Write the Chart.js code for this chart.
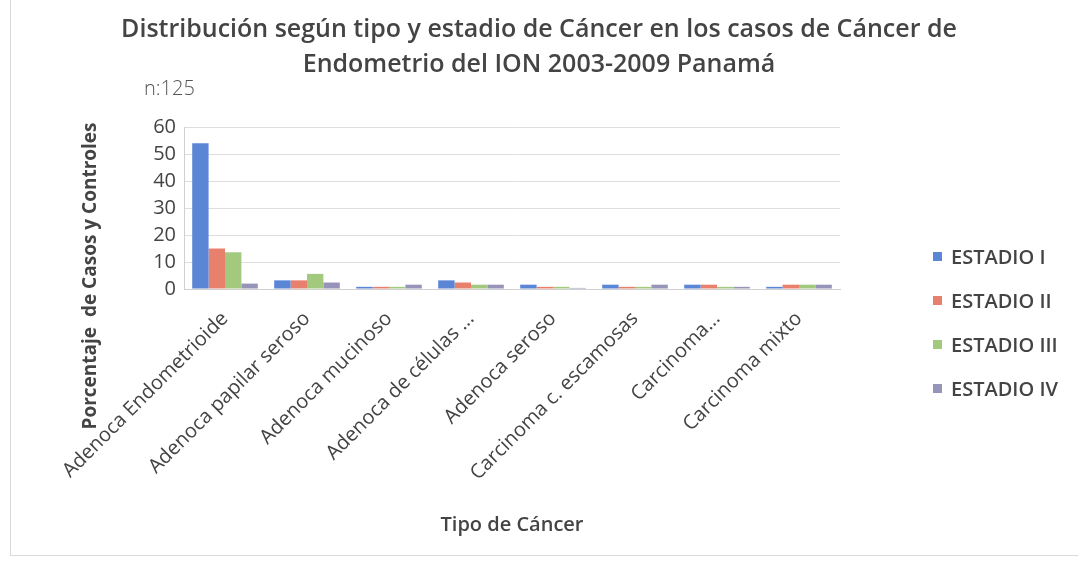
<!DOCTYPE html>
<html>
<head>
<meta charset="utf-8">
<script src="https://cdn.jsdelivr.net/npm/chart.js@4"></script>
<style>
  body { margin: 0; background: #fff; }
  #wrap { position: relative; width: 1078px; height: 563px; }
  #frame { position: absolute; left: 10px; top: 0; width: 1068px; height: 556px;
           border-left: 1px solid #d9d9d9; border-bottom: 1px solid #d9d9d9; box-sizing: border-box; }
  #n { position: absolute; left: 144px; top: 74px; font: 300 20px "Open Sans"; color: #555; }
  #legend { position: absolute; left: 933px; top: 243px; font: 600 20px "Open Sans"; color: #444; }
  #legend div { height: 44px; line-height: 28px; }
  #legend span { display: inline-block; width: 9px; height: 9px; margin-right: 9px; vertical-align: 3px; }
</style>
</head>
<body>
<div id="wrap">
  <div id="frame"></div>
  <canvas id="c" width="1078" height="563"></canvas>
  <div id="n">n:125</div>
  <div id="legend"></div>
</div>
<script>
// categories
const tipos = ["Adenoca Endometrioide", "Adenoca papilar seroso", "Adenoca mucinoso",
  "Adenoca de células ...", "Adenoca seroso", "Carcinoma c. escamosas", "Carcinoma...", "Carcinoma mixto"];

// percentages per stage
const estadioI   = [54, 3.2, 0.8, 3.2, 1.6, 1.6, 1.6, 0.8];
const estadioII  = [15, 3.2, 0.8, 2.4, 0.8, 0.8, 1.6, 1.6];
const estadioIII = [13.6, 5.6, 0.8, 1.6, 0.8, 0.8, 0.8, 1.6];
const estadioIV  = [2, 2.4, 1.6, 1.6, 0.4, 1.6, 0.8, 1.6];

const seriesNames = ["ESTADIO I", "ESTADIO II", "ESTADIO III", "ESTADIO IV"];
const colores = ["#5B86D6", "#E8806E", "#A2C97E", "#9694B8"];

const yTicks = [0, 10, 20, 30, 40, 50, 60];

const datasets = [estadioI, estadioII, estadioIII, estadioIV].map((d, i) => ({
  label: seriesNames[i],
  data: d,
  backgroundColor: colores[i],
  categoryPercentage: 0.8,
  barPercentage: 1.0
}));

// legend on the right
const leg = document.getElementById("legend");
seriesNames.forEach((s, i) => {
  const row = document.createElement("div");
  row.innerHTML = '<span style="background:' + colores[i] + '"></span>' + s;
  leg.appendChild(row);
});

// y axis title, placed like the original (lower than the plot centre)
const yTitle = {
  id: "yTitle",
  afterDraw(chart) {
    const ctx = chart.ctx;
    ctx.save();
    ctx.translate(91, 276);
    ctx.rotate(-Math.PI / 2);
    ctx.font = "bold 19px 'Open Sans'";
    ctx.fillStyle = "#444";
    ctx.textAlign = "center";
    ctx.textBaseline = "middle";
    ctx.fillText("Porcentaje  de Casos y Controles", 0, 0);
    ctx.restore();
  }
};

new Chart(document.getElementById("c"), {
  type: "bar",
  data: { labels: tipos, datasets: datasets },
  plugins: [yTitle],
  options: {
    responsive: false,
    animation: false,
    layout: { padding: { left: 20, right: 20, top: 8, bottom: 22 } },
    plugins: {
      legend: { display: false },
      tooltip: { enabled: false },
      title: {
        display: true,
        text: ["Distribución según tipo y estadio de Cáncer en los casos de Cáncer de",
               "Endometrio del ION 2003-2009 Panamá"],
        font: { family: "Open Sans", size: 25, weight: "600", lineHeight: 1.4 },
        color: "#444",
        padding: { top: 4, bottom: 45 }
      }
    },
    scales: {
      x: {
        grid: { display: false },
        border: { color: "#d0d0d0" },
        ticks: { color: "#444", font: { family: "Open Sans", size: 20 }, minRotation: 45, maxRotation: 45,
                 autoSkip: false, padding: 10 },
        title: { display: true, text: "Tipo de Cáncer", color: "#444",
                 font: { family: "Open Sans", size: 20, weight: "600" }, padding: { top: 20 } },
        afterFit(scale) { scale.height = 252; }
      },
      y: {
        min: 0, max: 60,
        afterBuildTicks(scale) { scale.ticks = yTicks.map(v => ({ value: v })); },
        grid: { color: "#dedede", drawTicks: false },
        border: { color: "#d0d0d0" },
        ticks: { color: "#444", font: { family: "Open Sans", size: 20, lineHeight: 1 }, padding: 8, autoSkip: false },
        afterFit(scale) { scale.width = 164; }
      },
      // empty right-hand axis keeps room for the legend so the title stays centred
      side: {
        type: "linear", position: "right", min: 0, max: 1,
        grid: { display: false }, border: { display: false }, ticks: { display: false },
        afterFit(scale) { scale.width = 218; }
      }
    }
  }
});
</script>
</body>
</html>
